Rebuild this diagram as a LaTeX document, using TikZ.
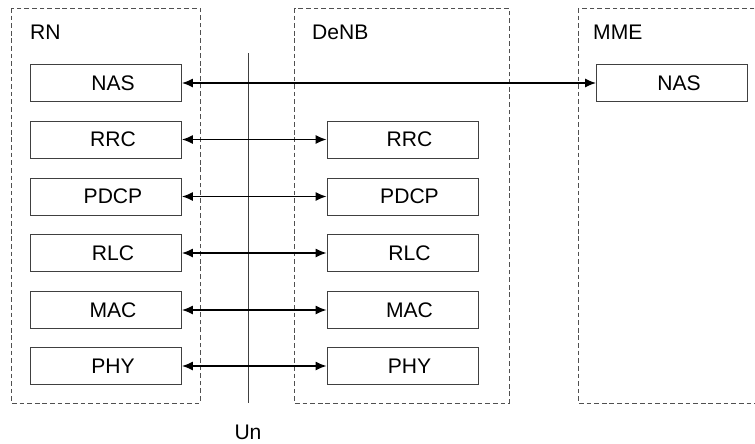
\documentclass[tikz,border=0pt]{standalone}
\usepackage{fontspec}
\setmainfont{Liberation Sans}
\usetikzlibrary{arrows.meta}
\definecolor{boxGray}{RGB}{64, 64, 64}
\definecolor{dashGray}{RGB}{80, 80, 80}

\begin{document}
\begin{tikzpicture}[x=0.03cm, y=-0.03cm]
                    \tikzstyle{layer} = [draw=boxGray, line width=0.7pt, minimum width=4.53cm, minimum height=1.11cm, inner sep=0pt, font=\fontsize{18}{21}\selectfont, execute at begin node={\hspace*{0.42cm}}]
                    \tikzstyle{entity} = [draw=dashGray, line width=0.7pt, dash pattern=on 4pt off 2.5pt]
                    \tikzstyle{title} = [anchor=west, inner sep=0pt, font=\fontsize{18}{21}\selectfont]
                    \tikzstyle{link} = [{Latex[length=0.33cm,width=0.27cm]}-{Latex[length=0.33cm,width=0.27cm]}, line width=1.2pt]
                    \useasboundingbox (0,0) rectangle (755,443);
                    % network entities
                    \draw[entity] (11,8) rectangle (200,403);
                    \draw[entity] (294,8) rectangle (509,403);
                    \draw[entity] (578,8) rectangle (770,403);
                    \node[title] (rn) at (30,32) {RN};
                    \node[title] (denb) at (312,32) {DeNB};
                    \node[title] (mme) at (593,32) {MME};
                    % Un interface
                    \coordinate (untop) at (248,53);
                    \coordinate (unbot) at (248,403);
                    \node (un) at (248,432) {\fontsize{18}{21}\selectfont Un};
                    \draw[line width=0.7pt, boxGray] (untop) -- (unbot);
                    % RN stack
                    \node[layer] (rnnas) at (106,83) {NAS};
                    \node[layer] (rnrrc) at (106,139.5) {RRC};
                    \node[layer] (rnpdcp) at (106,196.5) {PDCP};
                    \node[layer] (rnrlc) at (106,253) {RLC};
                    \node[layer] (rnmac) at (106,310) {MAC};
                    \node[layer] (rnphy) at (106,366) {PHY};
                    % DeNB stack
                    \node[layer] (enbrrc) at (402.5,139.5) {RRC};
                    \node[layer] (enbpdcp) at (402.5,196.5) {PDCP};
                    \node[layer] (enbrlc) at (402.5,253) {RLC};
                    \node[layer] (enbmac) at (402.5,310) {MAC};
                    \node[layer] (enbphy) at (402.5,366) {PHY};
                    % MME stack
                    \node[layer] (mmenas) at (672,83) {NAS};
                    % peer links
                    \draw[link] (rnnas) -- (mmenas);
                    \draw[link] (rnrrc) -- (enbrrc);
                    \draw[link] (rnpdcp) -- (enbpdcp);
                    \draw[link] (rnrlc) -- (enbrlc);
                    \draw[link] (rnmac) -- (enbmac);
                    \draw[link] (rnphy) -- (enbphy);
                \end{tikzpicture}
\end{document}
